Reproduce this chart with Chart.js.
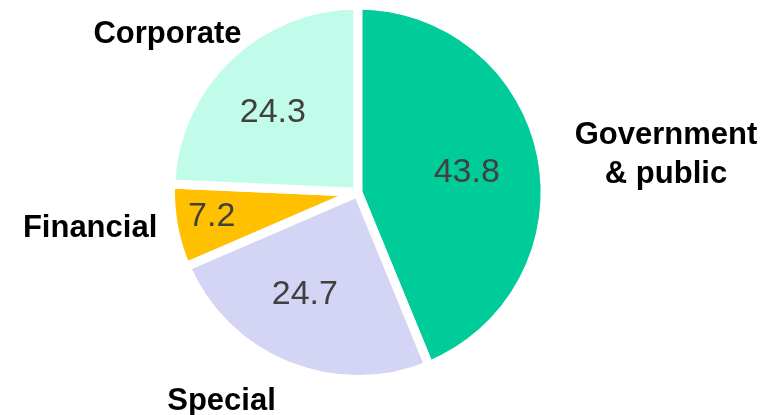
<!DOCTYPE html>
<html>
<head>
<meta charset="utf-8">
<script src="https://cdn.jsdelivr.net/npm/chart.js@4.4.1/dist/chart.umd.min.js"></script>
<style>
  html, body { margin: 0; padding: 0; background: #ffffff; overflow: hidden; }
  #wrap { position: relative; width: 777px; height: 415px; }
</style>
</head>
<body>
<div id="wrap"><canvas id="pie" width="777" height="415"></canvas></div>
<script>
// Sector shares (%), clockwise from 12 o'clock
const categories = ['Government & public', 'Special', 'Financial', 'Corporate'];
const categoryLines = [['Government', '& public'], ['Special'], ['Financial'], ['Corporate']];
const shares = [43.8, 24.7, 7.2, 24.3];
const sliceColors = ['#00CC99', '#D4D4F4', '#FFC000', '#C1FCEA'];

// Label placement: radius as a fraction of the visible pie radius, plus an angular nudge (degrees)
const valueSpots = [
  { r: 0.609, da: -0.6 },
  { r: 0.616, da: 5.9 },
  { r: 0.808, da: 1.9 },
  { r: 0.647, da: -2.2 }
];
const nameSpots = [
  { r: 1.700, da: 3.8 },
  { r: 1.353, da: 11.3 },
  { r: 1.476, da: 3.3 },
  { r: 1.362, da: -6.1 }
];

const FONT = '"Liberation Sans", Arial, Helvetica, sans-serif';

const sliceLabels = {
  id: 'sliceLabels',
  afterDatasetsDraw(chart) {
    const ctx = chart.ctx;
    const arcs = chart.getDatasetMeta(0).data;
    ctx.save();
    ctx.textAlign = 'center';
    ctx.textBaseline = 'alphabetic';
    arcs.forEach((arc, i) => {
      const p = arc.getProps(['x', 'y', 'startAngle', 'endAngle', 'outerRadius'], true);
      const rVis = p.outerRadius - arc.options.borderWidth / 2;
      const mid = (p.startAngle + p.endAngle) / 2;

      // value inside the slice
      const vs = valueSpots[i];
      const va = mid + vs.da * Math.PI / 180;
      const vx = p.x + Math.cos(va) * rVis * vs.r;
      const vy = p.y + Math.sin(va) * rVis * vs.r;
      const vSize = 34;
      ctx.font = `${vSize}px ${FONT}`;
      ctx.fillStyle = '#404040';
      ctx.fillText(shares[i].toFixed(1), vx, vy + vSize * 0.358);

      // category name outside the slice
      const ns = nameSpots[i];
      const na = mid + ns.da * Math.PI / 180;
      const nx = p.x + Math.cos(na) * rVis * ns.r;
      const ny = p.y + Math.sin(na) * rVis * ns.r;
      const nSize = 31;
      const lineGap = 39;
      ctx.font = `bold ${nSize}px ${FONT}`;
      ctx.fillStyle = '#000000';
      const lines = categoryLines[i];
      lines.forEach((t, k) => {
        const ly = ny + (k - (lines.length - 1) / 2) * lineGap;
        ctx.fillText(t, nx, ly + nSize * 0.358);
      });
    });
    ctx.restore();
  }
};

new Chart(document.getElementById('pie'), {
  type: 'pie',
  data: {
    labels: categories,
    datasets: [{
      data: shares,
      backgroundColor: sliceColors,
      borderColor: '#ffffff',
      borderWidth: 9,
      hoverOffset: 0,
      radius: 187.3
    }]
  },
  options: {
    responsive: false,
    animation: false,
    devicePixelRatio: 1,
    layout: { padding: { left: 0, top: 0, right: 61.4, bottom: 30.4 } },
    events: [],
    plugins: {
      legend: { display: false },
      tooltip: { enabled: false }
    }
  },
  plugins: [sliceLabels]
});
</script>
</body>
</html>
